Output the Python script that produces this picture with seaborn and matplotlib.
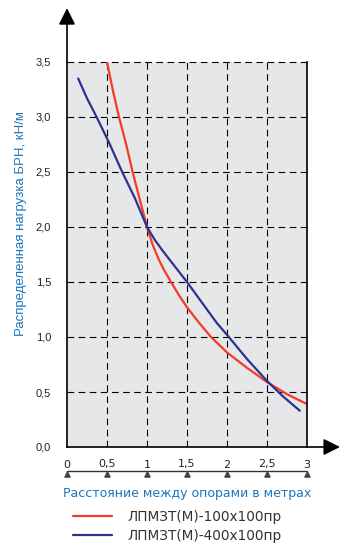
import numpy as np
import pandas as pd
import matplotlib
matplotlib.use('Agg')
import matplotlib.pyplot as plt
import seaborn as sns

# values
x_red = [0.5, 0.58, 0.65, 0.74, 0.82, 0.91, 1.0, 1.07, 1.15, 1.22, 1.3, 1.4, 1.5, 1.65, 1.8, 2.0, 2.25, 2.5, 2.75, 3.0]
y_red = [3.5, 3.22, 3.0, 2.75, 2.5, 2.25, 2.0, 1.84, 1.7, 1.6, 1.5, 1.38, 1.27, 1.13, 1.0, 0.86, 0.72, 0.59, 0.48, 0.39]
x_blue = [0.14, 0.25, 0.37, 0.53, 0.69, 0.85, 1.0, 1.1, 1.2, 1.35, 1.5, 1.62, 1.75, 1.87, 2.0, 2.25, 2.5, 2.7, 2.91]
y_blue = [3.35, 3.17, 3.0, 2.76, 2.5, 2.26, 2.0, 1.88, 1.78, 1.64, 1.5, 1.38, 1.25, 1.13, 1.02, 0.8, 0.6, 0.46, 0.33]
names = ['ЛПМЗТ(М)-100x100пр', 'ЛПМЗТ(М)-400x100пр']
xticks = [0, 0.5, 1, 1.5, 2, 2.5, 3]
xlabels = ['0', '0,5', '1', '1,5', '2', '2,5', '3']
yticks = [0.0, 0.5, 1.0, 1.5, 2.0, 2.5, 3.0, 3.5]
ylabels = ['0,0', '0,5', '1,0', '1,5', '2,0', '2,5', '3,0', '3,5']

df = pd.concat([
    pd.DataFrame({'x': x_red, 'y': y_red, 'series': names[0]}),
    pd.DataFrame({'x': x_blue, 'y': y_blue, 'series': names[1]}),
])

sns.set_style('white')
plt.rcParams['font.family'] = ['Liberation Sans', 'DejaVu Sans']

blue_txt = '#1c75bc'
fig = plt.figure(figsize=(3.46, 5.47), dpi=100)
ax = fig.add_axes([67/346, 1 - 447/547, 240/346, 385/547])
ax.set_facecolor('#e6e7e8')

sns.lineplot(data=df, x='x', y='y', hue='series', palette=['#f23c26', '#2e3192'],
             linewidth=1.6, sort=False, estimator=None, ax=ax, legend=True)

ax.set_xlim(0, 3)
ax.set_ylim(0, 3.5)
ax.set_xticks(xticks, labels=xlabels)
ax.set_yticks(yticks, labels=ylabels)
ax.tick_params(axis='x', direction='inout', length=8, width=1, color='#222222', pad=5,
               labelsize=8, labelcolor='#222222', labelfontfamily='DejaVu Sans')
ax.tick_params(axis='y', direction='inout', length=11, width=1, color='#222222', pad=6,
               labelsize=8, labelcolor='#222222')

for v in xticks[1:-1]:
    ax.plot([v, v], [0, 3.5], color='black', lw=0.8, dashes=(6, 4), zorder=1)
for v in yticks[1:]:
    ax.plot([0, 3], [v, v], color='black', lw=0.8, dashes=(6, 4), clip_on=False, zorder=1)

ax.spines['top'].set_visible(False)
for s in ['left', 'bottom', 'right']:
    ax.spines[s].set_color('black')
    ax.spines[s].set_linewidth(1.2)

ax.annotate('', xy=(0, 1.14), xytext=(0, 1.0), xycoords='axes fraction',
            arrowprops=dict(arrowstyle='-|>,head_length=1.0,head_width=0.5', color='black',
                            lw=1.2, mutation_scale=10, shrinkA=0, shrinkB=0))
ax.annotate('', xy=(1.1375, 0), xytext=(1.0, 0), xycoords='axes fraction',
            arrowprops=dict(arrowstyle='-|>,head_length=1.0,head_width=0.5', color='black',
                            lw=1.2, mutation_scale=10, shrinkA=0, shrinkB=0))

# second scale line below the axis
ax.plot([0, 3], [-0.215, -0.215], color='#333333', lw=1.0, clip_on=False)
ax.scatter(xticks, [-0.245] * len(xticks), marker='^', s=14, color='#444444', clip_on=False, zorder=3)

ax.set_xlabel('')
ax.set_ylabel('')
fig.text(187/346, 1 - 493/547, 'Расстояние между опорами в метрах', color=blue_txt,
         fontsize=9, ha='center', va='center', family='DejaVu Sans')
fig.text(21/346, 1 - 224/547, 'Распределенная нагрузка БРН, кН/м', color=blue_txt,
         fontsize=9.5, ha='center', va='center', rotation=90)

handles, lbls = ax.get_legend_handles_labels()
ax.legend(handles, lbls, loc='center left', bbox_to_anchor=(73/346, 1 - 526.5/547),
          bbox_transform=fig.transFigure, frameon=False, handlelength=2.9,
          handletextpad=1.1, labelspacing=0.38, borderpad=0, borderaxespad=0,
          labelcolor='#333333', prop={'family': 'DejaVu Sans', 'size': 9.8})

fig.savefig('out.png', dpi=100)
